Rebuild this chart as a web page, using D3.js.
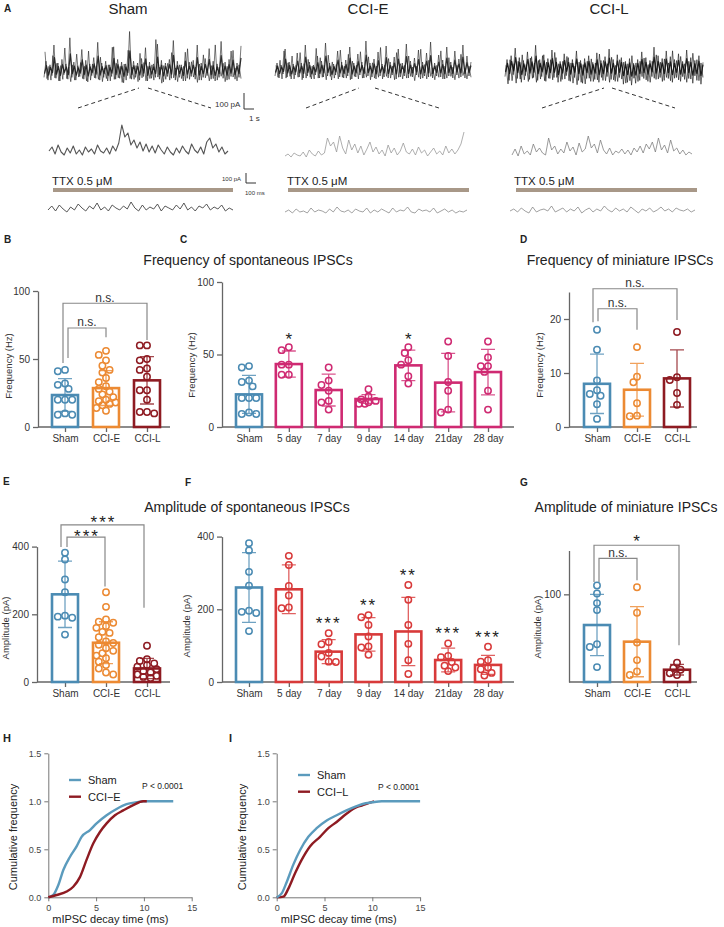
<!DOCTYPE html>
<html><head><meta charset="utf-8">
<script src="https://cdn.jsdelivr.net/npm/d3@7"></script>
<style>
body{margin:0;background:#fff}
svg{display:block;font-family:"Liberation Sans",Arial,sans-serif}
.ax .domain,.ax line{stroke:#666;stroke-width:1.3}
.ax text{font-size:10px;fill:#333;font-family:"Liberation Sans",Arial,sans-serif}
.axh .domain,.axh line{stroke:#777;stroke-width:1}
.axh text{font-size:9px;fill:#444;font-family:"Liberation Sans",Arial,sans-serif}
</style>
</head><body><svg id="c" width="724" height="927"></svg>
<script>
// ---------------- DATA ----------------
const groups3 = ["Sham", "CCI-E", "CCI-L"];
const days = ["Sham", "5 day", "7 day", "9 day", "14 day", "21day", "28 day"];

// B: frequency of spontaneous IPSCs (Hz)
const freqSponMean = [23.5, 28.6, 34.3];
const freqSponSD = [12, 12.8, 17.4];
const freqSham = [42, 41, 32, 31, 28, 20, 20, 20, 9, 9, 10];
const freqCCIE = [56, 53, 49, 45, 42, 40, 36, 33, 30, 28, 26, 24, 22, 20, 19, 18, 17, 16, 14, 12];
const freqCCIL = [60, 60, 50, 49, 43, 42, 37, 27, 27, 20, 11, 11, 10];

// C: frequency over days (Hz)
const freqDayMean = [22.5, 43.4, 25.5, 19.3, 42.5, 30.6, 37.9];
const freqDaySD = [13.1, 9, 11, 3, 10.5, 20.2, 15.7];
const freqDayPts = [
  freqSham,
  [55, 53, 43, 43, 36, 36],
  [41, 32, 29, 25, 18, 17, 12],
  [26, 21, 19, 17, 16, 16, 18],
  [55, 51, 46, 43, 35, 30],
  [59, 49, 31, 25, 12, 10],
  [59, 48, 42, 42, 38, 25, 12]
];
const freqDaySig = ["", "*", "", "", "*", "", ""];

// D: frequency of miniature IPSCs (Hz)
const freqMiniMean = [8.0, 6.9, 9.0];
const freqMiniSD = [5.5, 4.9, 5.3];
const freqMiniPts = [
  [18, 14.3, 8.6, 6.8, 6.1, 5.8, 4.2, 1.5],
  [14.8, 9.3, 8.3, 4.4, 2.0, 2.1],
  [17.6, 9.2, 8.7, 6.3, 4.1]
];

// E: amplitude of spontaneous IPSCs (pA)
const ampSponMean = [259, 116, 40];
const ampSponSD = [98, 62, 30];
const ampSham = [382, 362, 303, 265, 196, 193, 190, 140];
const ampCCIE = [265, 222, 185, 178, 175, 165, 160, 148, 145, 132, 120, 115, 110, 100, 92, 85, 78, 70, 60, 50, 40, 28, 22];
const ampCCIL = [107, 67, 62, 55, 50, 45, 38, 32, 28, 22, 18, 15, 12];

// F: amplitude over days (pA)
const ampDayMean = [260, 255, 83.5, 131, 139, 60.5, 47];
const ampDaySD = [96, 67, 33, 46, 94, 32.5, 26];
const ampDayPts = [
  ampSham,
  [347, 322, 264, 238, 205, 203],
  [134, 110, 104, 80, 70, 56, 55],
  [184, 178, 157, 125, 98, 95, 75],
  [267, 226, 157, 105, 60, 22],
  [106, 72, 68, 55, 45, 30, 40],
  [97, 60, 56, 40, 35, 25, 18]
];
const ampDaySig = ["", "", "***", "**", "**", "***", "***"];

// G: amplitude of miniature IPSCs (pA)
const ampMiniMean = [65, 46, 14];
const ampMiniSD = [35, 40, 6];
const ampMiniPts = [
  [110, 101, 90, 82, 43, 40, 17],
  [108, 79, 45, 25, 12, 8],
  [22, 16, 14, 10, 8]
];

// H / I: cumulative distributions of mIPSC decay time (ms)
const hShamX = [0, 0.52, 1.05, 1.57, 2.26, 2.96, 3.48, 4.36, 5.05, 6.1, 7.14, 8.19, 9.23, 9.93, 13.07];
const hShamY = [0, 0.024, 0.128, 0.284, 0.42, 0.53, 0.63, 0.70, 0.77, 0.855, 0.92, 0.97, 0.99, 1.0, 1.0];
const hCCIEX = [0, 0.87, 1.92, 2.61, 3.31, 4.0, 4.7, 5.4, 6.1, 6.97, 7.84, 8.88, 9.93, 10.3];
const hCCIEY = [0, 0.024, 0.06, 0.11, 0.21, 0.39, 0.56, 0.68, 0.77, 0.855, 0.905, 0.96, 1.0, 1.0];
const iShamX = [0, 0.52, 1.05, 1.74, 2.44, 3.31, 4.18, 5.23, 6.27, 7.3, 8.36, 9.3, 10.0, 11, 15];
const iShamY = [0, 0.04, 0.16, 0.34, 0.49, 0.63, 0.72, 0.80, 0.855, 0.905, 0.95, 0.98, 0.99, 1.0, 1.0];
const iCCILX = [0, 0.7, 1.22, 1.92, 2.61, 3.48, 4.53, 5.4, 6.27, 7.3, 8.36, 8.9, 9.6, 10.2];
const iCCILY = [0, 0.007, 0.09, 0.25, 0.39, 0.53, 0.63, 0.72, 0.785, 0.87, 0.94, 0.955, 0.98, 1.0];
const cumTicksY = [0, 0.5, 1.0, 1.5];
const cumTicksX = [0, 5, 10, 15];

// A: example current traces (pA, arbitrary baseline)
const traceShamTop = [-6,12,-9,8,-4,30,-7,10,-10,14,-3,9,-8,38,-6,11,-9,7,-5,25,-8,13,-11,9,-4,16,-7,33,-9,10,-6,12,-10,8,-5,28,-8,14,-7,11,-12,9,-4,45,-8,12,-6,10,-9,15,-5,27,-10,11,-7,9,-6,31,-8,13,-11,10,-5,14,-7,35,-9,12,-6,8,-10,22,-7,11,-5,13,-8,30,-9,10,-6,15,-4,26,-8,12,-10,9,-6,34,-7,11,-9,14,-5,24,-8,10,-6,29];
const traceCCIETop = [-5,8,-7,6,-3,22,-6,9,-8,7,-4,18,-6,8,-7,26,-5,9,-8,6,-4,15,-7,10,-6,28,-5,8,-9,7,-4,20,-6,9,-7,11,-5,24,-8,8,-6,17,-4,9,-7,30,-5,8,-6,12,-8,19,-5,7,-6,25,-7,9,-4,14,-8,22,-6,8,-5,27,-7,10,-6,13,-4,21,-8,9,-5,18,-6,29,-7,8,-5,16,-6,11,-8,24,-5,9,-7,20,-4,12,-6,26,-7,15,-5,9];
const traceCCILTop = [-8,10,-12,14,-6,22,-10,12,-14,9,-7,18,-11,13,-9,25,-12,10,-8,15,-13,11,-10,20,-9,12,-14,8,-11,16,-7,12,-13,10,-9,19,-12,9,-15,11,-10,14,-13,7,-11,17,-14,9,-12,13,-8,21,-11,10,-13,15,-9,12,-16,8,-14,11,-17,6,-15,10,-12,18,-10,12,-13,9,-8,23,-11,14,-9,11,-12,19,-10,13,-14,10,-9,16,-13,8,-11,20,-10,12,-15,9,-12,14,-16,7];
const traceShamMid = [6,10,3,12,5,2,9,4,11,3,7,2,10,5,8,3,12,6,4,9,3,11,6,14,32,20,24,12,17,9,15,6,13,5,11,4,12,7,3,10,5,2,9,4,11,6,3,13,7,4,10,3,15,19,9,13,5,10,3,6];
const traceCCIEMid = [2,4,1,5,3,2,6,1,8,4,2,7,3,5,20,12,16,6,22,10,4,18,8,14,5,12,3,9,16,6,11,4,8,2,13,5,10,3,7,15,6,4,9,3,11,5,8,2,6,10,4,7,3,12,5,9,4,8,14,26];
const traceCCILMid = [3,9,2,12,4,7,3,14,6,10,5,3,20,8,12,4,9,5,16,7,11,3,15,6,9,22,10,14,5,18,8,4,10,3,7,5,9,4,8,3,10,6,12,5,14,9,16,6,20,8,13,5,18,7,10,4,8,3,6,4];
const traceShamTTX = [4,8,3,9,5,2,7,4,10,6,3,8,5,11,4,7,3,9,6,4,8,5,12,6,3,9,4,7,5,10,3,8,6,4,9,5,11,4,7,3,8,6,10,4,7,5,9,3,6,4];
const traceCCIETTX = [3,5,2,6,3,4,2,7,3,5,4,2,6,3,8,4,3,5,2,6,4,3,7,2,5,3,6,4,2,7,3,5,4,8,3,2,6,4,5,3,7,2,4,6,3,5,2,4,3,5];
const traceCCILTTX = [4,6,3,7,4,2,8,3,5,6,4,9,3,5,7,3,6,4,8,2,5,7,3,6,4,9,5,3,7,4,6,3,8,5,2,6,4,7,3,5,8,4,6,3,7,5,4,6,3,5];

// ---------------- STYLE ----------------
const cSham = "#4b8bb3", cE = "#ec8a33", cL = "#8e1b22", cPink = "#cf2a72", cRed = "#d83a3a";
const svg = d3.select("#c");

function txt(x, y, s, size, opt = {}) {
  const t = svg.append("text").attr("x", x).attr("y", y).text(s)
    .attr("font-size", size).attr("fill", opt.fill || "#222")
    .attr("text-anchor", opt.anchor || "start");
  if (opt.bold) t.attr("font-weight", "bold");
  if (opt.rot) t.attr("transform", `rotate(-90,${x},${y})`);
  if (opt.ls) t.attr("letter-spacing", opt.ls);
  return t;
}

// ---------------- PANEL A ----------------
txt(4, 12, "A", 10, {bold: true});
const condX = [128, 368, 609];
groups3.forEach((g, i) => txt(condX[i], 14, g, 15, {anchor: "middle"}));

function trace(arr, x0, x1, base, k, color, w, op = 1) {
  const x = d3.scaleLinear().domain([0, arr.length - 1]).range([x0, x1]);
  const y = d3.scaleLinear().domain([0, 1]).range([base, base - k]);
  svg.append("path").attr("d", d3.line().x((d, i) => x(i)).y(d => y(d))(arr))
    .attr("fill", "none").attr("stroke", color).attr("stroke-width", w)
    .attr("stroke-opacity", op).attr("stroke-linejoin", "round");
}
// dense whole-cell recordings: the sweep plus its mirrored overlay
function denseTrace(arr, x0, x1, base, k, color) {
  trace(arr, x0, x1, base, k, color, 0.7, 0.85);
  trace(arr.slice().reverse(), x0 + 1, x1, base + 2, k * 0.85, color, 0.7, 0.85);
  trace(arr.map(v => v * 0.5), x0 + 0.5, x1, base - 1, k, color, 1.2, 0.9);
}
denseTrace(traceShamTop, 44, 241, 72, 0.9, "#1c1c1c");
denseTrace(traceCCIETop, 275, 471, 71, 1.0, "#1c1c1c");
denseTrace(traceCCILTop, 505, 703, 69, 0.95, "#0e0e0e");
trace(traceShamMid, 49, 228, 157, 1.0, "#555", 1.1);
trace(traceCCIEMid, 285, 464, 158, 1.0, "#9a9a9a", 0.8);
trace(traceCCILMid, 512, 692, 158, 1.0, "#808080", 0.8);
trace(traceShamTTX, 48, 233, 214, 1.0, "#444", 0.9);
trace(traceCCIETTX, 285, 467, 215, 1.0, "#7a7a7a", 0.7);
trace(traceCCILTTX, 510, 695, 215, 1.0, "#777", 0.7);

// zoom dashed lines
const dashes = [[78, 139, 148, 211], [306, 359, 375, 439], [542, 604, 612, 675]];
const dg = svg.append("g").attr("stroke", "#333").attr("stroke-width", 1).attr("stroke-dasharray", "4,3");
dashes.forEach(d => {
  dg.append("line").attr("x1", d[0]).attr("y1", 108).attr("x2", d[1]).attr("y2", 88);
  dg.append("line").attr("x1", d[2]).attr("y1", 88).attr("x2", d[3]).attr("y2", 108);
});

// scale bars
svg.append("path").attr("d", "M244,93V109H254").attr("fill", "none").attr("stroke", "#333").attr("stroke-width", 1);
txt(215, 107, "100 pA", 8, {fill: "#333"});
txt(249, 121, "1 s", 8, {fill: "#333"});
svg.append("path").attr("d", "M246,173V183H256").attr("fill", "none").attr("stroke", "#333").attr("stroke-width", 1);
txt(222, 181, "100 pA", 6, {fill: "#333"});
txt(245, 195, "100 ms", 6, {fill: "#333"});

// TTX bars
const ttx = [[52, 53, 233], [287, 288, 469], [514, 516, 697]];
ttx.forEach(t => {
  txt(t[0], 185, "TTX 0.5 μM", 11.5, {fill: "#222"});
  svg.append("rect").attr("x", t[1]).attr("y", 188).attr("width", t[2] - t[1]).attr("height", 4).attr("fill", "#a89888");
});

// ---------------- BAR PANELS ----------------
function swarm(vals, y) {
  const pts = vals.map(v => ({v, y: y(v)})).sort((a, b) => a.y - b.y);
  const placed = [];
  const minD = 6.2;
  const cands = [0, -3.6, 3.6, -7.2, 7.2, -9.6, 9.6];
  pts.forEach(p => {
    let best = null, bestD = -1;
    for (const c of cands) {
      const d = placed.length ? d3.min(placed, q => Math.hypot(q.dx - c, q.y - p.y)) : 99;
      if (d >= minD) { best = c; break; }
      if (d > bestD) { bestD = d; best = c; }
    }
    p.dx = best; placed.push(p);
  });
  return placed;
}

function barPanel(o) {
  const g = svg.append("g");
  const x = d3.scalePoint().domain(o.cats).range(o.xr);
  const y = d3.scaleLinear().domain(o.yd).range([o.y0, o.yTop]);
  g.append("g").attr("class", "ax").attr("transform", `translate(${o.ax0},0)`)
    .call(d3.axisLeft(y).tickValues(o.yt).tickSize(5).tickSizeOuter(0).tickFormat(d => d));
  const gx = g.append("g").attr("class", "ax").attr("transform", `translate(0,${o.y0})`)
    .call(d3.axisBottom(x).tickSize(5).tickSizeOuter(0));
  gx.select(".domain").attr("d", `M${o.ax0},0H${o.ax1}`);
  gx.selectAll("text").attr("y", 8);
  const bw = 26;
  o.cats.forEach((c, i) => {
    const col = o.colors[i];
    const cx = x(c);
    g.append("rect").attr("x", cx - bw / 2).attr("y", y(o.mean[i])).attr("width", bw)
      .attr("height", y(0) - y(o.mean[i])).attr("fill", "none").attr("stroke", col).attr("stroke-width", 2.6);
    const lo = y(Math.max(0, o.mean[i] - o.sd[i])), hi = y(o.mean[i] + o.sd[i]);
    g.append("path").attr("d", `M${cx},${lo}V${hi}M${cx - 7},${hi}H${cx + 7}M${cx - 7},${lo}H${cx + 7}`)
      .attr("fill", "none").attr("stroke", col).attr("stroke-width", 1.3).attr("stroke-opacity", 0.8);
    swarm(o.pts[i], y).forEach(p => {
      g.append("circle").attr("cx", cx + p.dx).attr("cy", p.y).attr("r", 3.2)
        .attr("fill", "none").attr("stroke", col).attr("stroke-width", 1.5);
    });
    if (o.sig && o.sig[i]) {
      const top = y(d3.max(o.pts[i])) - o.sigOff;
      txt(cx, top + 7, o.sig[i], 17, {anchor: "middle", ls: o.sig[i].length > 1 ? 2 : 0});
    }
  });
  (o.brackets || []).forEach(b => {
    const xa = x(b.a) + b.da, xb = x(b.b) + b.db;
    const yt = y(b.top);
    g.append("path").attr("d", `M${xa},${y(b.la)}V${yt}H${xb}V${y(b.lb)}`)
      .attr("fill", "none").attr("stroke", "#888").attr("stroke-width", 1.2);
    const mx = (xa + xb) / 2;
    if (b.label === "n.s.") txt(mx, yt - 1.5, b.label, 12, {anchor: "middle", fill: "#333"});
    else txt(mx + 1, yt + b.off, b.label, 17, {anchor: "middle", ls: 2});
  });
  txt(o.ylx, o.yly, o.ylab, 9.5, {anchor: "middle", rot: true, fill: "#333"});
}

const col3 = [cSham, cE, cL];
// B
txt(4, 243, "B", 10, {bold: true});
barPanel({cats: groups3, xr: [65, 147], ax0: 38, ax1: 170, y0: 427, yTop: 291, yd: [0, 100], yt: [0, 50, 100],
  mean: freqSponMean, sd: freqSponSD, pts: [freqSham, freqCCIE, freqCCIL], colors: col3,
  ylab: "Frequency (Hz)", ylx: 12, yly: 366,
  brackets: [
    {a: "Sham", da: -2, b: "CCI-L", db: 0, top: 91, la: 47, lb: 64, label: "n.s."},
    {a: "Sham", da: 3, b: "CCI-E", db: 0, top: 72.8, la: 50.7, lb: 66, label: "n.s."}
  ]});
// C
txt(180, 243, "C", 10, {bold: true});
txt(248, 265, "Frequency of spontaneous IPSCs", 14, {anchor: "middle"});
barPanel({cats: days, xr: [249, 488], ax0: 222, ax1: 514, y0: 427, yTop: 282, yd: [0, 100], yt: [0, 50, 100],
  mean: freqDayMean, sd: freqDaySD, pts: freqDayPts, colors: [cSham, cPink, cPink, cPink, cPink, cPink, cPink],
  sig: freqDaySig, sigOff: 9.5, ylab: "Frequency (Hz)", ylx: 195, yly: 365});
// D
txt(520, 243, "D", 10, {bold: true});
txt(620, 265, "Frequency of miniature IPSCs", 14, {anchor: "middle"});
barPanel({cats: groups3, xr: [597, 677], ax0: 569, ax1: 697, y0: 427, yTop: 292, yd: [0, 25], yt: [0, 10, 20],
  mean: freqMiniMean, sd: freqMiniSD, pts: freqMiniPts, colors: col3,
  ylab: "Frequency (Hz)", ylx: 543, yly: 365,
  brackets: [
    {a: "Sham", da: -4, b: "CCI-L", db: 0, top: 25.6, la: 19.4, lb: 19.8, label: "n.s."},
    {a: "Sham", da: 1, b: "CCI-E", db: 0, top: 21.9, la: 19.6, lb: 18, label: "n.s."}
  ]});
// E
txt(3, 485, "E", 10, {bold: true});
txt(247, 512, "Amplitude of spontaneous IPSCs", 14, {anchor: "middle"});
barPanel({cats: groups3, xr: [65, 147], ax0: 37, ax1: 170, y0: 682, yTop: 546.6, yd: [0, 400], yt: [0, 200, 400],
  mean: ampSponMean, sd: ampSponSD, pts: [ampSham, ampCCIE, ampCCIL], colors: col3,
  ylab: "Amplitude (pA)", ylx: 9, yly: 628,
  brackets: [
    {a: "Sham", da: -4, b: "CCI-L", db: -3, top: 464, la: 399, lb: 219, label: "***", off: 3},
    {a: "Sham", da: 2, b: "CCI-E", db: -1, top: 428, la: 399, lb: 282, label: "***", off: 5}
  ]});
// F
txt(185, 486, "F", 10, {bold: true});
barPanel({cats: days, xr: [249, 488], ax0: 222, ax1: 514, y0: 682, yTop: 536.6, yd: [0, 400], yt: [0, 200, 400],
  mean: ampDayMean, sd: ampDaySD, pts: ampDayPts, colors: [cSham, cRed, cRed, cRed, cRed, cRed, cRed],
  sig: ampDaySig, sigOff: 11, ylab: "Amplitude (pA)", ylx: 190, yly: 626});
// G
txt(520, 486, "G", 10, {bold: true});
txt(626, 512, "Amplitude of miniature IPSCs", 14, {anchor: "middle"});
barPanel({cats: groups3, xr: [597, 677], ax0: 569, ax1: 697, y0: 682, yTop: 550.5, yd: [0, 150], yt: [100],
  mean: ampMiniMean, sd: ampMiniSD, pts: ampMiniPts, colors: col3,
  ylab: "Amplitude (pA)", ylx: 541, yly: 627,
  brackets: [
    {a: "Sham", da: -3, b: "CCI-L", db: 2, top: 156, la: 114, lb: 42, label: "*", off: 2},
    {a: "Sham", da: 2, b: "CCI-E", db: 0, top: 141, la: 114, lb: 116, label: "n.s."}
  ]});

// ---------------- PANELS H / I ----------------
function cumPanel(o) {
  const x = d3.scaleLinear().domain([0, 15]).range([o.x0, o.x0 + 143.4]);
  const y = d3.scaleLinear().domain([0, 1.5]).range([897.3, 753.3]);
  svg.append("g").attr("class", "axh").attr("transform", `translate(${o.x0},0)`)
    .call(d3.axisLeft(y).tickValues(cumTicksY).tickSize(4).tickSizeOuter(0).tickFormat(d3.format(".1f")));
  svg.append("g").attr("class", "axh").attr("transform", "translate(0,897.3)")
    .call(d3.axisBottom(x).tickValues(cumTicksX).tickSize(4).tickSizeOuter(0));
  const line = d3.line().x(d => x(d[0])).y(d => y(d[1])).curve(d3.curveMonotoneX);
  o.series.forEach(s => {
    svg.append("path").attr("d", line(d3.zip(s.x, s.y))).attr("fill", "none")
      .attr("stroke", s.color).attr("stroke-width", 2.4);
  });
  o.legend.forEach((l, i) => {
    const ly = o.ly + i * 16.7;
    svg.append("path").attr("d", `M${o.lx},${ly}H${o.lx + 12}`).attr("stroke", l.color).attr("stroke-width", 2.4);
    txt(o.lx + 19, ly + 4, l.name, 11, {fill: "#222"});
  });
  txt(o.px, o.py, "P < 0.0001", 8.5, {fill: "#222"});
  txt(o.x0 - 31, 837, "Cumulative  frequency", 11, {anchor: "middle", rot: true, fill: "#222"});
  txt(o.x0 + 62, 923, "mIPSC decay time (ms)", 11, {anchor: "middle", fill: "#222"});
}
txt(3, 742, "H", 11, {bold: true});
cumPanel({x0: 48.3, lx: 69, ly: 780, px: 142, py: 789,
  series: [{x: hShamX, y: hShamY, color: "#5b9bbd"}, {x: hCCIEX, y: hCCIEY, color: cL}],
  legend: [{name: "Sham", color: "#5b9bbd"}, {name: "CCI−E", color: cL}]});
txt(229, 742, "I", 11, {bold: true});
cumPanel({x0: 276.7, lx: 298, ly: 775, px: 378, py: 790,
  series: [{x: iCCILX, y: iCCILY, color: cL}, {x: iShamX, y: iShamY, color: "#5b9bbd"}],
  legend: [{name: "Sham", color: "#5b9bbd"}, {name: "CCI−L", color: cL}]});
</script>
</body></html>
